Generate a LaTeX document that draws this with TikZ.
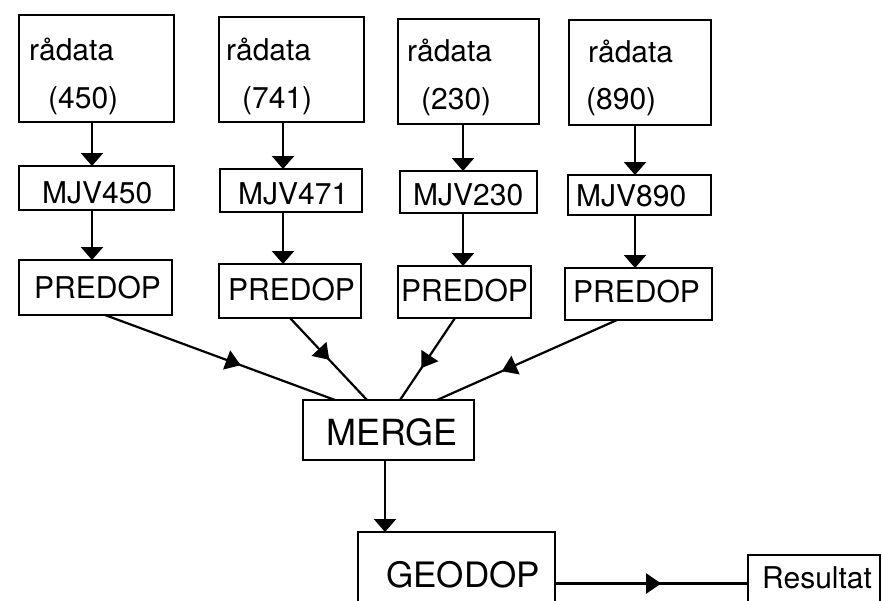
\documentclass[tikz,border=0pt]{standalone}
\usepackage{fontspec}
\setmainfont{TeX Gyre Heros}
\usetikzlibrary{arrows.meta,decorations.markings}
\begin{document}
\begin{tikzpicture}[x=1pt,y=-1pt,
  box/.style={draw, line width=2.2pt, inner sep=0pt, outer sep=0pt},
  lbl/.style={anchor=base west, inner sep=0pt, font=\fontsize{30}{30}\selectfont},
  flow/.style={line width=2.2pt, -{Triangle[width=22pt,length=13pt]}},
  midarrow/.style={line width=2.2pt, postaction={decorate},
    decoration={markings, mark=at position #1 with {\arrow{Triangle[width=20pt,length=15pt]}}}}
]
\fill[white] (0,0) rectangle (882,600);
\clip (0,0) rectangle (882,600);

% raw data boxes
\node[box, minimum width=155pt, minimum height=107pt] (r1) at (96.5,68.5) {};
\node[box, minimum width=145pt, minimum height=105pt] (r2) at (291.5,69.5) {};
\node[box, minimum width=141pt, minimum height=105pt] (r3) at (468.5,71.5) {};
\node[box, minimum width=142pt, minimum height=105pt] (r4) at (640,72.5) {};
\node[lbl] (r1a) at (29,60) {rådata};
\node[lbl] (r1b) at (48,108) {(450)};
\node[lbl] (r2a) at (226,60) {rådata};
\node[lbl] (r2b) at (242,108) {(741)};
\node[lbl] (r3a) at (407,61) {rådata};
\node[lbl] (r3b) at (421,109) {(230)};
\node[lbl] (r4a) at (588,62) {rådata};
\node[lbl] (r4b) at (586,109) {(890)};

% MJV boxes
\node[box, minimum width=155pt, minimum height=44pt] (m1) at (96.5,188) {};
\node[box, minimum width=142pt, minimum height=43pt] (m2) at (291,190.5) {};
\node[box, minimum width=137pt, minimum height=42pt] (m3) at (468.5,192) {};
\node[box, minimum width=143pt, minimum height=40pt] (m4) at (639.5,195) {};
\node[lbl] (m1t) at (42,203) {MJV450};
\node[lbl] (m2t) at (238,204) {MJV471};
\node[lbl] (m3t) at (413,205) {MJV230};
\node[lbl] (m4t) at (576,206) {MJV890};

% PREDOP boxes
\node[box, minimum width=153pt, minimum height=55pt] (p1) at (95.5,287.5) {};
\node[box, minimum width=142pt, minimum height=54pt] (p2) at (290,291) {};
\node[box, minimum width=133pt, minimum height=52pt] (p3) at (464.5,292) {};
\node[box, minimum width=147pt, minimum height=52pt] (p4) at (638.5,294) {};
\node[lbl] (p1t) at (34,298) {PREDOP};
\node[lbl] (p2t) at (228,300) {PREDOP};
\node[lbl] (p3t) at (401,301) {PREDOP};
\node[lbl] (p4t) at (573,302) {PREDOP};

% MERGE, GEODOP, Resultat
\node[box, minimum width=171pt, minimum height=60pt] (mg) at (388.5,430) {};
\node[lbl, font=\fontsize{36}{36}\selectfont] (mgt) at (326,445) {MERGE};
\node[box, minimum width=197pt, minimum height=80pt] (gd) at (456.5,572) {};
\node[lbl, font=\fontsize{35}{35}\selectfont] (gdt) at (386,587) {GEODOP};
\node[box, minimum width=132pt, minimum height=57pt] (rs) at (814,583.5) {};
\node[lbl, font=\fontsize{30}{30}\selectfont] (rst) at (762,588) {Resultat};

% column guides for the vertical arrows
\coordinate (c1) at (92,0);
\coordinate (c2) at (283,0);
\coordinate (c3) at (463,0);
\coordinate (c4) at (635,0);
\coordinate (c5) at (385,0);

\draw[flow] (r1.south -| c1) -- (m1.north -| c1);
\draw[flow] (r2.south -| c2) -- (m2.north -| c2);
\draw[flow] (r3.south -| c3) -- (m3.north -| c3);
\draw[flow] (r4.south -| c4) -- (m4.north -| c4);
\draw[flow] (m1.south -| c1) -- (p1.north -| c1);
\draw[flow] (m2.south -| c2) -- (p2.north -| c2);
\draw[flow] (m3.south -| c3) -- (p3.north -| c3);
\draw[flow] (m4.south -| c4) -- (p4.north -| c4);

% converging lines into MERGE
\draw[midarrow=0.59] ([xshift=9.5pt]p1.south) -- ([xshift=-53.5pt]mg.north);
\draw[midarrow=0.51] (p2.south) -- ([xshift=-21.5pt]mg.north);
\draw[midarrow=0.61] ([xshift=-9.5pt]p3.south) -- ([xshift=11.5pt]mg.north);
\draw[midarrow=0.64] ([xshift=-21.5pt]p4.south) -- ([xshift=48.5pt]mg.north);

\draw[flow] (mg.south -| c5) -- (gd.north -| c5);
\draw[midarrow=0.55] (gd.east |- rs.west) -- (rs.west);
\end{tikzpicture}
\end{document}
